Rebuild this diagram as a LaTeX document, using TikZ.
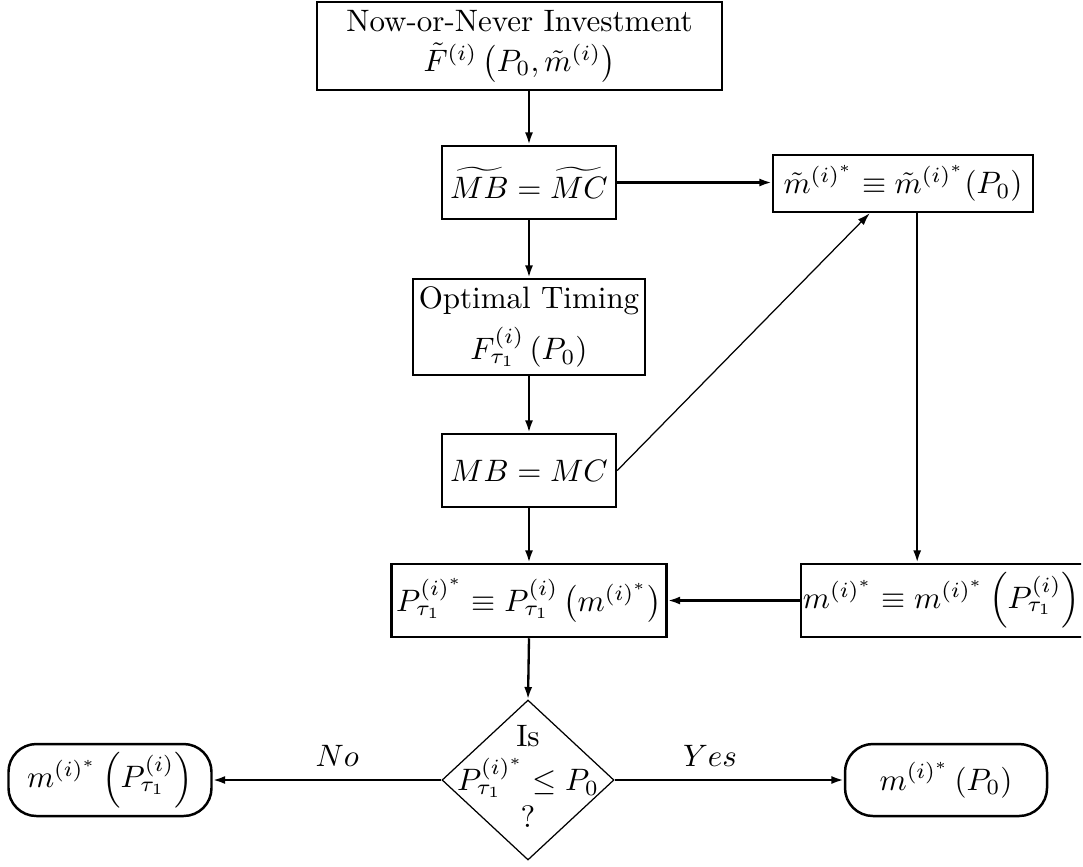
\documentclass[tikz,border=0pt]{standalone}
\usepackage{amsmath,amssymb}
\usetikzlibrary{shapes.geometric,arrows.meta,calc}
\begin{document}
\def\u{0.3226pt}
\begin{tikzpicture}[x=0.3226pt,y=-0.3226pt,
  box/.style={draw,line width=0.8pt,inner sep=0pt,align=center},
  pill/.style={draw,line width=0.8pt,inner sep=0pt,rounded corners=9pt},
  dec/.style={draw,diamond,line width=0.4pt,inner sep=0pt},
  arr/.style={line width=0.75pt,-{Latex[length=4pt,width=2.6pt]}},
  thinarr/.style={line width=0.4pt,-{Latex[length=4pt,width=2.6pt]}},
  lab/.style={inner sep=0pt}]
\useasboundingbox (0,0) rectangle (1083,866);
\clip (0,0) rectangle (1081,866);
\node[box,minimum width=405*\u,minimum height=88*\u] (top) at (519.5,46)
  {Now-or-Never Investment\\[1pt] $\tilde F^{(i)}\left(P_0,\tilde m^{(i)}\right)$};
\node[box,minimum width=174*\u,minimum height=73*\u] (mbt) at (529,182.5)
  {$\widetilde{MB}=\widetilde{MC}$};
\node[box,minimum width=260*\u,minimum height=57*\u] (mt) at (903,183.5)
  {$\tilde m^{(i)^*}\equiv\tilde m^{(i)^*}(P_0)$};
\node[box,minimum width=232*\u,minimum height=96*\u] (opt) at (529,327)
  {Optimal Timing\\[3pt] $F^{(i)}_{\tau_1}\left(P_0\right)$};
\node[box,minimum width=174*\u,minimum height=73*\u] (mb) at (529,470.5)
  {$MB=MC$};
\node[box,minimum width=275*\u,minimum height=73*\u] (pb) at (529,600.5)
  {$P^{(i)^*}_{\tau_1}\equiv P^{(i)}_{\tau_1}\left(m^{(i)^*}\right)$};
\node[box,minimum width=360*\u,minimum height=73*\u] (rm) at (981,600.5)
  {$m^{(i)^*}\equiv m^{(i)^*}\left(P^{(i)}_{\tau_1}\right)$\hspace{25.5pt}};
\node[dec,minimum width=172*\u,minimum height=160*\u] (d) at (528,780)
  {\smash{\makebox[0pt]{\raisebox{-2.4pt}{\begin{tabular}{@{}c@{}}Is\\ $P^{(i)^*}_{\tau_1}\le P_0$\\ ?\end{tabular}}}}};
\node[pill,minimum width=203*\u,minimum height=72*\u] (lp) at (110,780)
  {$m^{(i)^*}\left(P^{(i)}_{\tau_1}\right)$};
\node[pill,minimum width=202*\u,minimum height=72*\u] (rp) at (946,780)
  {$m^{(i)^*}\left(P_0\right)$};
\coordinate (dtip) at ($(mt.south west)!0.373!(mt.south east)$);
\coordinate (vtop) at ($(mt.south west)!0.554!(mt.south east)$);
\draw[arr] (top.south -| mbt.north) -- (mbt.north);
\draw[arr] (mbt.east) -- (mbt.east -| mt.west);
\draw[arr] (mbt.south) -- (opt.north);
\draw[arr] (opt.south) -- (mb.north);
\draw[thinarr] (mb.east) -- (dtip);
\draw[arr] (mb.south) -- (pb.north);
\draw[arr] (vtop) -- (vtop |- rm.north);
\draw[arr] (rm.west) -- (pb.east);
\draw[arr] (pb.south) -- (d.north);
\draw[arr] (d.west) -- (lp.east) node[lab,pos=0.455,above=4pt] {$No$};
\draw[arr] (d.east) -- (rp.west) node[lab,pos=0.416,above=4pt] {$Yes$};
\end{tikzpicture}
\end{document}
